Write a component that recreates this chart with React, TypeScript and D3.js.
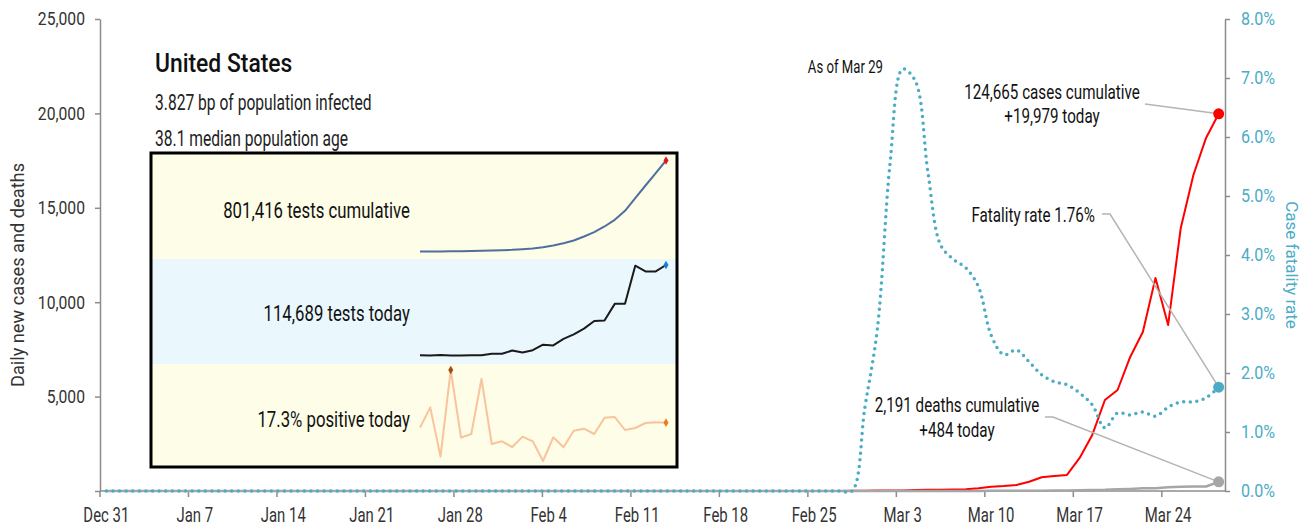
import React, { useEffect, useRef } from 'react';
import * as d3 from 'd3';

const FONT = "Roboto, 'Liberation Sans', sans-serif";

// Dec 31 .. Mar 29, one value per day
const casesDaily = [
  0, 0, 0, 0, 0, 0, 0, 0, 0, 0, 0, 0, 0, 0, 0, 0, 0, 0, 0, 0, 0,
  1, 0, 0, 1, 0, 3, 0, 0, 0, 1, 0, 1, 1, 0, 0, 0, 0, 0, 0, 0,
  1, 0, 0, 0, 1, 0, 0, 0, 0, 0, 0, 0, 0, 0, 0, 1, 1, 2, 8,
  10, 20, 25, 30, 50, 60, 70, 80, 90, 150, 230, 260, 318, 490, 725,
  790, 850, 1750, 2970, 4820, 5350, 7100, 8420, 11280, 8790, 13930, 16740, 18700, 19979,
];
const deathsDaily = [
  0, 0, 0, 0, 0, 0, 0, 0, 0, 0, 0, 0, 0, 0, 0, 0, 0, 0, 0, 0, 0,
  0, 0, 0, 0, 0, 0, 0, 0, 0, 0, 0, 0, 0, 0, 0, 0, 0, 0, 0, 0,
  0, 0, 0, 0, 0, 0, 0, 0, 0, 0, 0, 0, 0, 0, 0, 0, 0, 0, 1,
  1, 4, 1, 4, 1, 2, 3, 4, 4, 5, 8, 7, 11, 7, 10,
  23, 23, 36, 50, 60, 90, 110, 140, 145, 200, 230, 235, 240, 484,
];
const fatalityRate = [
  0, 0, 0, 0, 0, 0, 0, 0, 0, 0, 0, 0, 0, 0, 0, 0, 0, 0, 0, 0, 0,
  0, 0, 0, 0, 0, 0, 0, 0, 0, 0, 0, 0, 0, 0, 0, 0, 0, 0, 0, 0,
  0, 0, 0, 0, 0, 0, 0, 0, 0, 0, 0, 0, 0, 0, 0, 0, 0, 0, 0,
  1.40, 2.75, 5.55, 7.15, 6.95, 5.40, 4.17, 3.93, 3.78, 3.46, 2.64, 2.31, 2.39, 2.19, 1.97,
  1.85, 1.80, 1.66, 1.46, 1.07, 1.32, 1.29, 1.34, 1.27, 1.42, 1.51, 1.51, 1.58, 1.76,
];
const xTickLabels = ['Dec 31', 'Jan 7', 'Jan 14', 'Jan 21', 'Jan 28', 'Feb 4', 'Feb 11', 'Feb 18', 'Feb 25', 'Mar 3', 'Mar 10', 'Mar 17', 'Mar 24'];
const leftTicks = [0, 5000, 10000, 15000, 20000, 25000];
const rightTicks = [0, 1, 2, 3, 4, 5, 6, 7, 8];

// inset sparklines
const testsCumulative = [
  5000, 5000, 5000, 6500, 7900, 9400, 10800, 13800, 16700, 19600, 25400, 31300, 42900,
  57500, 77900, 101300, 136300, 174200, 223800, 282100, 360900, 471700, 582600, 690500, 801416,
];
const testsToday = [
  2400, 2000, 2700, 2000, 2000, 2400, 2400, 4100, 4100, 8200, 5700, 8600, 15500,
  14600, 22600, 28200, 35400, 44900, 45600, 66300, 66300, 113800, 106700, 106700, 114689,
];
const positiveToday = [
  15.8, 21.9, 7.1, 33.1, 12.8, 13.9, 30.4, 10.9, 11.7, 10.0, 13.1, 11.7, 5.8,
  12.9, 9.9, 14.9, 15.5, 13.9, 18.8, 19.0, 15.1, 15.7, 17.2, 17.4, 17.3,
];

const App = () => {
  const svgRef = useRef<SVGSVGElement>(null);

  useEffect(() => {
    const svg = d3.select(svgRef.current);
    svg.selectAll('*').remove();
    svg.style('font-family', FONT);

    const left = 100, right = 1225, top = 19, bottom = 491;
    const x = d3.scaleBand<number>().domain(d3.range(casesDaily.length)).range([left, right]);
    const cx = (i: number) => (x(i) as number) + x.bandwidth() / 2;
    const yL = d3.scaleLinear().domain([0, 25000]).range([bottom, top]);
    const yR = d3.scaleLinear().domain([0, 8]).range([bottom, top]);
    const axisColor = '#8c8c8c';
    const blue = '#4bacc6';

    // text squeezed horizontally to mimic the condensed face
    const label = (t: string, tx: number, ty: number, size: number, sx: number,
      anchor = 'start', fill = '#111', weight = 400) => {
      svg.append('g').attr('transform', `translate(${tx},${ty}) scale(${sx},1)`)
        .append('text').attr('text-anchor', anchor).attr('font-size', size)
        .attr('font-weight', weight).attr('fill', fill).text(t);
    };

    // left axis
    const sqL = 0.84;
    const gl = svg.append('g').attr('transform', `translate(${left},0)`)
      .call(d3.axisLeft(yL).tickValues(leftTicks).tickSize(5).tickSizeOuter(0)
        .tickFormat(d => (+d === 0 ? '' : d3.format(',')(+d))));
    gl.select('.domain').attr('stroke', axisColor).attr('stroke-width', 1.5);
    gl.selectAll('.tick line').attr('stroke', axisColor).attr('stroke-width', 1.5);
    gl.selectAll('.tick text').attr('fill', '#333').attr('font-size', 18.7).attr('font-family', FONT)
      .attr('x', -15 / sqL).attr('transform', `scale(${sqL},1)`);

    // right axis
    const sqR = 0.86;
    const gr = svg.append('g').attr('transform', `translate(${right},0)`)
      .call(d3.axisRight(yR).tickValues(rightTicks).tickSize(5).tickSizeOuter(0)
        .tickFormat(d => d3.format('.1f')(+d) + '%'));
    gr.select('.domain').attr('stroke', axisColor).attr('stroke-width', 1.5);
    gr.selectAll('.tick text').attr('fill', blue).attr('font-size', 18.7).attr('font-family', FONT)
      .attr('x', 16 / sqR).attr('transform', `scale(${sqR},1)`);
    gr.selectAll('.tick line').attr('stroke', axisColor).attr('stroke-width', 1.5);

    // x axis
    const gx = svg.append('g');
    gx.append('line').attr('x1', left).attr('x2', right).attr('y1', bottom).attr('y2', bottom)
      .attr('stroke', axisColor).attr('stroke-width', 1.5);
    xTickLabels.forEach((t, k) => {
      const i = k * 7;
      gx.append('line').attr('x1', x(i) as number).attr('x2', x(i) as number)
        .attr('y1', bottom).attr('y2', bottom + 6).attr('stroke', axisColor).attr('stroke-width', 1.5);
      label(t, cx(i), 522, 21, 0.71, 'middle', '#333');
    });

    // axis titles
    svg.append('text').attr('transform', `translate(24,${(top + bottom) / 2 + 20}) rotate(-90)`)
      .attr('text-anchor', 'middle').attr('font-size', 18.2).attr('fill', '#333')
      .text('Daily new cases and deaths');
    svg.append('text').attr('transform', `translate(1286,${(top + bottom) / 2 + 10}) rotate(90)`)
      .attr('text-anchor', 'middle').attr('font-size', 17).attr('fill', blue)
      .text('Case fatality rate');

    // header
    label('United States', 155, 72, 26, 0.88, 'start', '#111', 500);
    label('3.827 bp of population infected', 155, 110, 22, 0.71, 'start', '#222');
    label('38.1 median population age', 155, 146, 22, 0.71, 'start', '#222');

    // inset box
    const bx0 = 151, bx1 = 677, by0 = 153, by1 = 467;
    const bandEdges = [by0, 259, 364, by1];
    const bandFills = ['#fefde8', '#eaf8fe', '#fefde8'];
    bandFills.forEach((f, k) => {
      svg.append('rect').attr('x', bx0).attr('y', bandEdges[k]).attr('width', bx1 - bx0)
        .attr('height', bandEdges[k + 1] - bandEdges[k]).attr('fill', f);
    });
    svg.append('rect').attr('x', bx0).attr('y', by0).attr('width', bx1 - bx0).attr('height', by1 - by0)
      .attr('fill', 'none').attr('stroke', '#000').attr('stroke-width', 3);

    const sx = d3.scalePoint<number>().domain(d3.range(testsCumulative.length)).range([420, 666]);
    const spark = (vals: number[], range: [number, number], color: string, width: number) => {
      const sy = d3.scaleLinear().domain(d3.extent(vals) as [number, number]).range(range);
      svg.append('path').datum(vals).attr('fill', 'none').attr('stroke', color).attr('stroke-width', width)
        .attr('stroke-linejoin', 'round')
        .attr('d', d3.line<number>().x((_, i) => sx(i) as number).y(d => sy(d)));
      return sy;
    };
    const diamond = (px: number, py: number, color: string) => {
      svg.append('path').attr('transform', `translate(${px},${py})`)
        .attr('d', d3.symbol().type(d3.symbolDiamond).size(22)()).attr('fill', color);
    };
    const last = testsCumulative.length - 1;
    const s1 = spark(testsCumulative, [251.5, 160.5], '#4f6f9f', 2);
    diamond(sx(last) as number, s1(testsCumulative[last]), '#e8141c');
    const s2 = spark(testsToday, [355.5, 265], '#1a1a1a', 2);
    diamond(sx(last) as number, s2(testsToday[last]), '#1a7fd8');
    const s3 = spark(positiveToday, [461, 370], '#f9c39c', 2);
    const imax = d3.maxIndex(positiveToday);
    diamond(sx(imax) as number, s3(positiveToday[imax]), '#a54a10');
    diamond(sx(last) as number, s3(positiveToday[last]), '#f07a1c');

    label('801,416 tests cumulative', 410, 218, 22.5, 0.745, 'end');
    label('114,689 tests today', 410, 321, 22.5, 0.745, 'end');
    label('17.3% positive today', 410, 427, 22.5, 0.745, 'end');

    // series
    const lineL = d3.line<number>().x((_, i) => cx(i)).y(d => yL(d));
    svg.append('path').datum(casesDaily).attr('fill', 'none').attr('stroke', '#ff0000')
      .attr('stroke-width', 2).attr('stroke-linejoin', 'round').attr('d', lineL);
    svg.append('path').datum(deathsDaily).attr('fill', 'none').attr('stroke', '#a6a6a6')
      .attr('stroke-width', 2.5).attr('stroke-linejoin', 'round').attr('d', lineL);
    const lineR = d3.line<number>().x((_, i) => cx(i)).y(d => yR(d)).curve(d3.curveCatmullRom.alpha(0.5));
    svg.append('path').datum(fatalityRate).attr('fill', 'none').attr('stroke', blue)
      .attr('stroke-width', 3.5).attr('stroke-linecap', 'round').attr('stroke-dasharray', '0 6.6')
      .attr('d', lineR);

    // annotations
    const n = casesDaily.length - 1;
    const ex = cx(n);
    const leader = (pts: [number, number][]) => {
      svg.append('path').attr('d', d3.line()(pts)).attr('fill', 'none')
        .attr('stroke', '#b4b4b4').attr('stroke-width', 1.5);
    };
    label('As of Mar 29', 883, 73, 17.8, 0.74, 'end');
    label('124,665 cases cumulative', 1052, 99, 20, 0.76, 'middle');
    label('+19,979 today', 1052, 123, 20, 0.76, 'middle');
    leader([[1145, 104], [ex, yL(casesDaily[n])]]);
    label('Fatality rate 1.76%', 1095, 222, 20, 0.76, 'end');
    leader([[1102, 214], [1110, 214], [ex, yR(fatalityRate[n])]]);
    label('2,191 deaths cumulative', 957, 412, 20, 0.76, 'middle');
    label('+484 today', 957, 437, 20, 0.76, 'middle');
    leader([[1045, 417], [1053, 417], [ex, yL(deathsDaily[n])]]);

    svg.append('circle').attr('cx', ex).attr('cy', yL(casesDaily[n])).attr('r', 5.5).attr('fill', '#ff0000');
    svg.append('circle').attr('cx', ex).attr('cy', yR(fatalityRate[n])).attr('r', 5.5).attr('fill', blue);
    svg.append('circle').attr('cx', ex).attr('cy', yL(deathsDaily[n])).attr('r', 5.5).attr('fill', '#a6a6a6');
  }, []);

  return (
    <svg ref={svgRef} width={1309} height={529}
      style={{ position: 'absolute', left: 0, top: 0, background: '#fff' }} />
  );
};

export default App;
